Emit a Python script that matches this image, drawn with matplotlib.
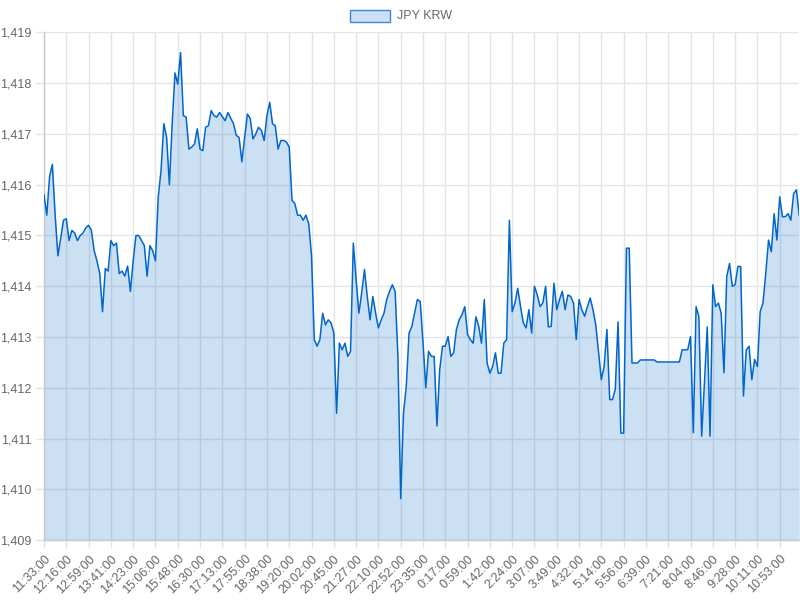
import numpy as np
import matplotlib
matplotlib.use("Agg")
import matplotlib.pyplot as plt
from matplotlib.patches import Rectangle
from matplotlib.ticker import FuncFormatter, MultipleLocator

series_name = "JPY KRW"

tick_labels = ["11:33:00", "12:16:00", "12:59:00", "13:41:00", "14:23:00", "15:06:00",
               "15:48:00", "16:30:00", "17:13:00", "17:55:00", "18:38:00", "19:20:00",
               "20:02:00", "20:45:00", "21:27:00", "22:10:00", "22:52:00", "23:35:00",
               "0:17:00", "0:59:00", "1:42:00", "2:24:00", "3:07:00", "3:49:00",
               "4:32:00", "5:14:00", "5:56:00", "6:39:00", "7:21:00", "8:04:00",
               "8:46:00", "9:28:00", "10:11:00", "10:53:00"]

rates = [
    1415.8, 1415.4, 1416.16, 1416.4, 1415.4, 1414.6, 1414.95, 1415.3,
    1415.33, 1414.9, 1415.1, 1415.05, 1414.9, 1415.0, 1415.05, 1415.15,
    1415.2, 1415.1, 1414.7, 1414.5, 1414.25, 1413.5, 1414.35, 1414.3,
    1414.9, 1414.8, 1414.85, 1414.25, 1414.3, 1414.2, 1414.4, 1413.9,
    1414.5, 1415.0, 1415.0, 1414.9, 1414.8, 1414.2, 1414.8, 1414.7,
    1414.5, 1415.76, 1416.28, 1417.2, 1416.93, 1416.0, 1417.2, 1418.2,
    1417.98, 1418.6, 1417.36, 1417.33, 1416.7, 1416.74, 1416.8, 1417.1,
    1416.7, 1416.67, 1417.13, 1417.16, 1417.46, 1417.36, 1417.33, 1417.42,
    1417.34, 1417.26, 1417.42, 1417.31, 1417.2, 1416.97, 1416.93, 1416.45,
    1416.93, 1417.39, 1417.3, 1416.9, 1417.0, 1417.13, 1417.07, 1416.87,
    1417.36, 1417.62, 1417.2, 1417.16, 1416.7, 1416.87, 1416.87, 1416.84,
    1416.74, 1415.69, 1415.63, 1415.4, 1415.4, 1415.3, 1415.4, 1415.23,
    1414.6, 1412.95, 1412.82, 1412.95, 1413.47, 1413.24, 1413.34, 1413.28,
    1413.08, 1411.5, 1412.88, 1412.75, 1412.88, 1412.62, 1412.72, 1414.85,
    1414.13, 1413.47, 1413.87, 1414.33, 1413.8, 1413.34, 1413.8, 1413.47,
    1413.18, 1413.34, 1413.47, 1413.74, 1413.9, 1414.03, 1413.9, 1412.62,
    1409.82, 1411.5, 1412.03, 1413.08, 1413.21, 1413.47, 1413.74, 1413.7,
    1412.9, 1412.0, 1412.72, 1412.62, 1412.62, 1411.25, 1412.36, 1412.82,
    1412.82, 1413.01, 1412.62, 1412.69, 1413.15, 1413.34, 1413.44, 1413.6,
    1413.05, 1412.95, 1412.88, 1413.4, 1413.21, 1412.88, 1413.74, 1412.49,
    1412.29, 1412.42, 1412.69, 1412.29, 1412.29, 1412.88, 1412.95, 1415.3,
    1413.5, 1413.67, 1413.96, 1413.6, 1413.28, 1413.18, 1413.54, 1413.08,
    1414.0, 1413.83, 1413.6, 1413.67, 1414.0, 1413.2, 1413.21, 1414.06,
    1413.54, 1413.74, 1413.9, 1413.54, 1413.83, 1413.8, 1413.67, 1412.95,
    1413.74, 1413.54, 1413.41, 1413.6, 1413.77, 1413.54, 1413.24, 1412.69,
    1412.16, 1412.42, 1413.15, 1411.77, 1411.77, 1411.97, 1413.3, 1411.11,
    1411.11, 1414.75, 1414.75, 1412.49, 1412.49, 1412.49, 1412.55, 1412.55,
    1412.55, 1412.55, 1412.55, 1412.55, 1412.51, 1412.51, 1412.51, 1412.51,
    1412.51, 1412.51, 1412.51, 1412.51, 1412.51, 1412.75, 1412.75, 1412.75,
    1413.01, 1411.12, 1413.6, 1413.4, 1411.05, 1412.1, 1413.2, 1411.05,
    1414.03, 1413.6, 1413.67, 1413.47, 1412.3, 1414.19, 1414.45, 1414.0,
    1414.03, 1414.39, 1414.39, 1411.84, 1412.75, 1412.82, 1412.16, 1412.56,
    1412.42, 1413.5, 1413.67, 1414.25, 1414.91, 1414.68, 1415.43, 1414.91,
    1415.76, 1415.37, 1415.37, 1415.43, 1415.3, 1415.82, 1415.9, 1415.4,
]

samples_per_label = 8

plt.rcParams['font.family'] = ['Liberation Sans', 'DejaVu Sans']

line_color = "#0066cc"
text_color = "#666666"
grid_color = "#e5e5e5"

fig = plt.figure(figsize=(8, 6), dpi=100)
ax = fig.add_axes([0.055, 0.0995, 0.944, 0.8467])

x = np.arange(len(rates))
y = np.array(rates)
ax.fill_between(x, 1409, y, color=line_color, alpha=0.2, linewidth=0, zorder=2)
ax.plot(x, y, color=line_color, linewidth=1.1, zorder=3)

ax.set_xlim(0, len(rates) - 1)
ax.set_ylim(1409, 1419)
ax.yaxis.set_major_locator(MultipleLocator(1))
ax.yaxis.set_major_formatter(FuncFormatter(lambda v, p: f"{int(round(v)):,}"))

tick_pos = np.arange(len(tick_labels)) * samples_per_label
ax.set_xticks(tick_pos)
ax.set_xticklabels(tick_labels, rotation=45, ha='right', rotation_mode='anchor')

ax.grid(True, color=grid_color, linewidth=1, zorder=0)
ax.set_axisbelow(True)
for s in ['top', 'right']:
    ax.spines[s].set_visible(False)
for s in ['left', 'bottom']:
    ax.spines[s].set_color('#c8c8c8')
    ax.spines[s].set_linewidth(1)

ax.tick_params(axis='both', colors=grid_color, length=6, width=1, labelcolor=text_color,
               labelsize=9, pad=3)

# legend
fig.patches.append(Rectangle((350, 578), 40, 12, transform=None, facecolor=(0.8, 0.878, 0.96),
                             edgecolor='#3a86d8', linewidth=1, figure=fig))
fig.text(397 / 800, 584 / 600, series_name, color=text_color, fontsize=9, va='center', ha='left')

fig.savefig("out.png", dpi=100)
